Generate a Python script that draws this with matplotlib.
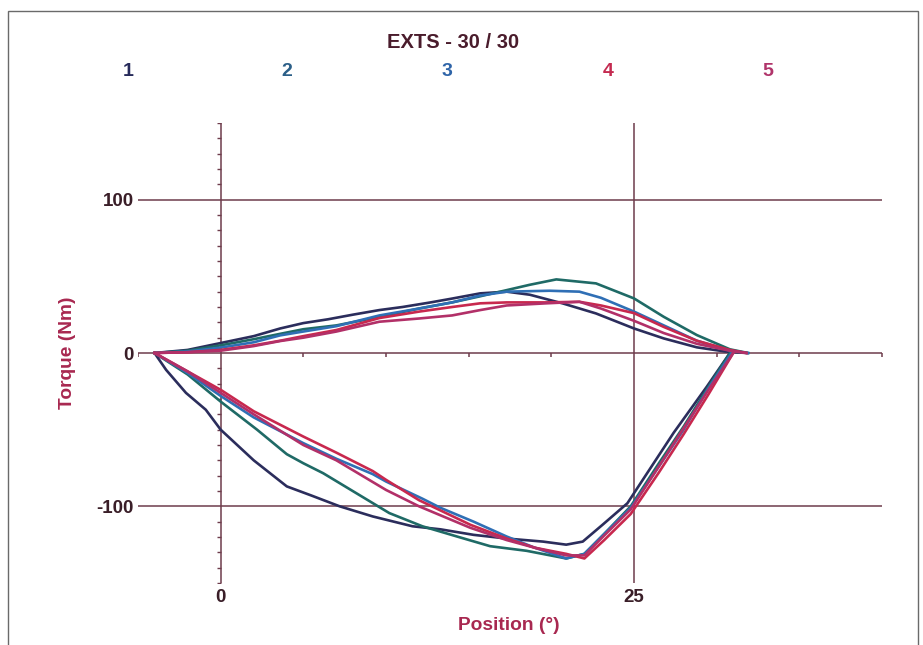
import matplotlib
matplotlib.use("Agg")
import matplotlib.pyplot as plt
from matplotlib.patches import Rectangle

# %% data: each trial = upper (pull) stroke + lower (push) stroke
trial_labels = ['1', '2', '3', '4', '5']
line_colors = ['#2b2d5c', '#1f6a66', '#2f6fb5', '#c8284e', '#b23068']
label_colors = ['#262a5a', '#2b5f88', '#2e64a8', '#c42a50', '#b0346a']

up1_x = [-4, -2, 0, 2, 3.6, 5, 6.5, 8, 9.6, 11, 12.7, 14, 15.7, 17.3, 18.7, 20.7, 22.7, 25, 26.8, 28.8, 30.5, 31.8]
up1_y = [0, 2, 6.5, 11, 16, 19.5, 22, 25, 28, 30, 33, 35.5, 38.9, 40, 38, 32.3, 25.8, 16, 9.5, 3.7, 1, 0]
up2_x = [-4, -2, 0, 2, 3.6, 5, 7, 9.6, 12, 14, 15.7, 17.3, 18.7, 20.3, 22.7, 25, 26.8, 28.8, 30.8, 31.9]
up2_y = [0, 1.5, 5, 9, 12.5, 15.5, 18, 23.5, 29, 33, 37, 41, 44.5, 48, 45.4, 35.6, 23.6, 11.7, 2.4, 0]
up3_x = [-4, -2, 0, 2, 3.6, 5, 7, 9.6, 12, 14, 15.7, 17.3, 19.9, 21.7, 23, 25, 26.8, 28.8, 30.8, 31.9]
up3_y = [0, 1, 3.5, 7, 11.5, 14, 17.5, 24.5, 29, 33, 37.5, 40, 40.6, 40, 36, 27, 18, 8, 1.5, 0]
up4_x = [-4, -2, 0, 2, 3.6, 5, 7, 9.6, 12, 14, 15.7, 17.3, 19.7, 21.7, 23, 25, 26.8, 28.8, 30.8, 31.8]
up4_y = [0, 0.5, 2, 5, 8, 11, 15, 22.8, 27, 30, 32.4, 33, 33, 33.4, 31, 26, 17, 8, 2, 0]
up5_x = [-4, -2, 0, 2, 3.6, 5, 7, 9.6, 12, 14, 15.7, 17.3, 19.7, 21.7, 23, 25, 26.8, 28.8, 30.8, 31.8]
up5_y = [0, 0.5, 1.5, 4.5, 7.8, 10, 14, 20.4, 22.5, 24.5, 28, 31, 32.4, 33.4, 29, 21, 13, 6, 1.5, 0]

lo1_x = [-4, -3.3, -2.1, -0.9, 0, 2, 4, 5.5, 7.2, 9.2, 11.6, 13.3, 15.3, 17.3, 19.5, 20.9, 21.9, 23.1, 24.6, 26, 27.4, 29.4, 30.8]
lo1_y = [0, -11, -26, -37, -50, -70, -87, -93, -100, -106.6, -113, -115, -118.6, -121, -123, -125, -123, -112, -98, -75, -52, -22, 0]
lo2_x = [-4, -2, 0, 2.2, 4, 5, 6.2, 8.2, 10.2, 12.2, 14.3, 16.3, 18.5, 20.9, 22, 23.2, 24.8, 26.5, 28, 29.5, 30.8]
lo2_y = [0, -14, -31.7, -50, -66, -71.9, -78.4, -91.4, -104.4, -113, -119.7, -126, -129, -134, -131, -118, -100, -72, -48, -22, 0]
lo3_x = [-4, -2, 0, 2, 5, 7, 9.2, 10, 12.2, 13.3, 15.3, 17.3, 19, 20.9, 22, 23.2, 24.8, 26.5, 28, 29.5, 30.9]
lo3_y = [0, -13, -28, -42, -58.8, -69, -79, -83.8, -95, -101, -110, -119.7, -127, -134, -131, -118, -101, -74, -50, -23, 0]
lo4_x = [-4, -2, 0, 2, 5, 7, 9.2, 10, 12, 15.1, 17.3, 19, 20.9, 22, 23.2, 24.8, 26.5, 28, 29.5, 31]
lo4_y = [0, -12, -24, -38, -54.5, -65, -77, -82.7, -96, -112, -121, -127, -131, -134, -122, -105, -78, -53, -27, 0]
lo5_x = [-4, -2, 0, 2, 5, 7, 10, 12, 15.1, 17.3, 19, 20.9, 22, 23.2, 24.8, 26.5, 28, 29.5, 31]
lo5_y = [0, -12, -26, -40, -60, -70, -89.3, -100, -114, -122, -127, -132, -132, -119, -102, -74, -49, -24, 0]

upper = [(up1_x, up1_y), (up2_x, up2_y), (up3_x, up3_y), (up4_x, up4_y), (up5_x, up5_y)]
lower = [(lo1_x, lo1_y), (lo2_x, lo2_y), (lo3_x, lo3_y), (lo4_x, lo4_y), (lo5_x, lo5_y)]

y_ticks = [-100, 0, 100]
x_ticks = [0, 25]
x_minor = [-5, 5, 10, 15, 20, 30, 35, 40]
y_minor = [v for v in range(-150, 151, 10) if v not in (-100, 0, 100)]

# %% figure
W, H = 923, 645
fig = plt.figure(figsize=(W / 100, H / 100), dpi=100)
plt.rcParams['font.family'] = ['Liberation Sans', 'DejaVu Sans']

def px(x, y):
    return x / W, 1 - y / H

# page frame of the scan
fig.patches.append(Rectangle(px(8, 700), (918 - 8) / W, (700 - 11) / H, transform=fig.transFigure,
                             fill=False, edgecolor='#6a6a6a', linewidth=1.0))

ax = fig.add_axes([138 / W, 1 - 583 / H, (882 - 138) / W, (583 - 123) / H])
ax.set_xlim(-5, 40)
ax.set_ylim(-150, 150)
for s in ax.spines.values():
    s.set_visible(False)

grid_c = '#6e3c4c'
for v in y_ticks:
    ax.axhline(v, color=grid_c, lw=1.1, zorder=1)
for v in x_ticks:
    ax.axvline(v, color=grid_c, lw=1.1, zorder=1)
ax.plot(x_minor, [0] * len(x_minor), ls='none', marker=3, ms=3, mew=1.1, color=grid_c)
ax.plot([0] * len(y_minor), y_minor, ls='none', marker=0, ms=3, mew=1.0, color=grid_c)

for (ux, uy), (lx, ly), c in zip(upper, lower, line_colors):
    ax.plot(ux, uy, color=c, lw=1.9, zorder=3)
    ax.plot(lx, ly, color=c, lw=1.9, zorder=3)

tick_c = '#3a1e28'
ax.set_yticks(y_ticks)
ax.set_yticklabels([str(v) for v in y_ticks], fontsize=13.5, fontweight='bold', color=tick_c)
ax.set_xticks(x_ticks)
ax.set_xticklabels([str(v) for v in x_ticks], fontsize=13.5, fontweight='bold', color=tick_c)
ax.tick_params(axis='both', length=0)
ax.tick_params(axis='y', pad=3)
ax.tick_params(axis='x', pad=4)

fig.text(*px(68, 353), 'Torque (Nm)', rotation=90, ha='center', va='center',
         fontsize=13.8, fontweight='bold', color='#a82850')
fig.text(*px(509, 625), 'Position (°)', ha='center', va='center',
         fontsize=13.8, fontweight='bold', color='#a82850')
fig.text(*px(453, 42), 'EXTS - 30 / 30', ha='center', va='center',
         fontsize=14.5, fontweight='bold', color='#4a1c2c')

for lab, c, xp in zip(trial_labels, label_colors, [128, 287, 447, 608, 768]):
    fig.text(*px(xp, 72), lab, ha='center', va='center', fontsize=14, fontweight='bold', color=c)

fig.savefig('out.png', dpi=100)
